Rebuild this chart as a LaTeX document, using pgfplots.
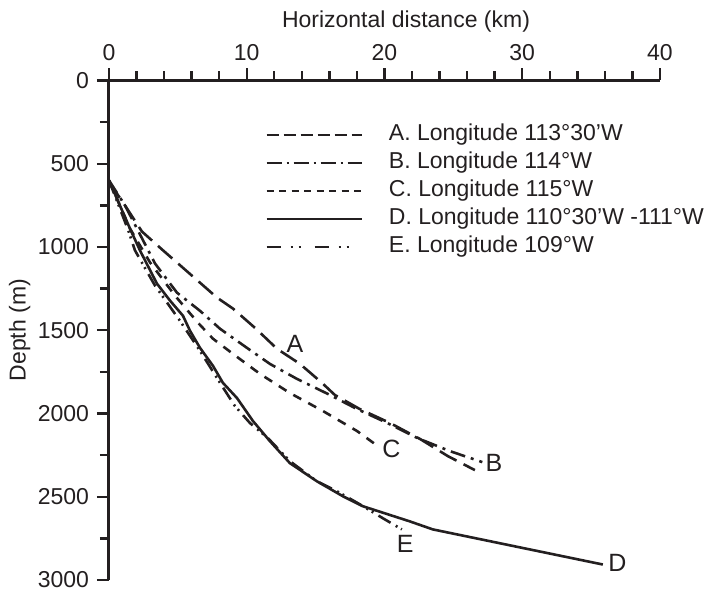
\documentclass[border=0pt]{standalone}
\usepackage{fontspec}
\setmainfont{Liberation Sans}
\usepackage{pgfplots}
\pgfplotsset{compat=1.18}
\definecolor{ink}{HTML}{231F20}

\begin{document}
\fontsize{11.5}{13.8}\selectfont
\begin{tikzpicture}
\begin{axis}[
  name=ax,
  scale only axis,
  width=275.5pt, height=249.75pt,
  xmin=0, xmax=40, ymin=0, ymax=3000,
  y dir=reverse,
  axis x line*=top, axis y line*=left,
  axis line style={-, line width=1.5pt, ink},
  xtick={0,10,...,40}, minor x tick num=4,
  ytick={0,500,...,3000}, minor y tick num=1,
  tick align=outside,
  major tick length=6pt, minor tick length=4.5pt,
  tick style={line width=1.2pt, ink},
  ticklabel style={text=ink},
  /pgf/number format/assume math mode=true,
  /pgf/number format/1000 sep={},
  xlabel={Horizontal distance (km)},
  xlabel style={at={(axis description cs:0.539,1.119)}, anchor=center, text=ink},
  ylabel={Depth (m)},
  ylabel style={at={(axis description cs:-0.162,0.5)}, anchor=center, text=ink},
  legend style={draw=none, fill=none, at={(axis description cs:0.283,0.914)},
    anchor=north west, inner sep=0pt, row sep=3pt,
    nodes={inner sep=0pt, text height=8.5pt, text depth=2.5pt, text=ink},
    /tikz/every odd column/.append style={column sep=13pt}},
  legend cell align=left,
  legend image code/.code={\draw[#1] (0pt,0pt) -- (47.5pt,0pt);},
  every axis plot/.append style={ink, line width=1.3pt},
]
% A. Longitude 113 30 W
\addplot[forget plot, dash pattern=on 9.5pt off 4pt] coordinates {
  (0,610) (1.0,730) (2.39,907) (3.85,1015) (6.6,1214) (7.84,1304) (9.0,1370)
  (10.67,1491) (12.19,1611) (13.86,1702) (15.46,1816) (16.4,1889) (18.2,1973)
  (20.4,2057) (22.6,2154) (24.6,2256) (26.56,2340)};
% B. Longitude 114 W
\addplot[forget plot, dash pattern=on 7.5pt off 3pt on 1.5pt off 3pt] coordinates {
  (0,600) (1.16,750) (3.34,1099) (4.93,1274) (6.6,1383) (8.06,1491) (10.0,1605)
  (11.68,1702) (13.64,1792) (15.9,1883) (18.0,1973) (20.2,2057) (22.4,2148)
  (24.75,2226) (27.1,2292)};
% C. Longitude 115 W
\addplot[forget plot, dash pattern=on 4.5pt off 4pt] coordinates {
  (0,600) (1.52,889) (2.98,1093) (4.79,1292) (6.46,1455) (7.55,1551) (9.0,1642)
  (10.96,1762) (13.13,1877) (15.53,1985) (18.0,2105) (19.52,2196)};
% D. Longitude 110 30 W - 111 W
\addplot[forget plot] coordinates {
  (0,600) (1.52,889) (2.25,1021) (3.48,1220) (4.43,1322) (5.37,1413) (5.88,1503)
  (6.60,1605) (7.55,1714) (8.27,1816) (9.29,1907) (10.45,2045) (11.68,2166)
  (13.13,2298) (15.09,2407) (16.98,2497) (18.43,2557) (21.84,2648) (23.5,2696)
  (35.85,2907)};
% E. Longitude 109 W
\addplot[forget plot, dash pattern=on 7pt off 3pt on 1pt off 2pt on 1pt off 3pt] coordinates {
  (0,600) (1.4,900) (1.89,1021) (3.34,1232) (5.15,1443) (6.6,1623) (8.06,1816)
  (9.14,1955) (10.23,2057) (11.54,2148) (13.13,2286) (15.09,2407) (16.55,2467)
  (18.2,2545) (19.9,2630) (21.26,2696)};

\addlegendimage{ink, line width=1.3pt, dash pattern=on 6pt off 2.5pt}
\addlegendimage{ink, line width=1.3pt, dash pattern=on 7.5pt off 2.5pt on 1pt off 2.5pt}
\addlegendimage{ink, line width=1.3pt, dash pattern=on 3.5pt off 2.75pt}
\addlegendimage{ink, line width=1.3pt}
\addlegendimage{ink, line width=1.3pt, dash pattern=on 7pt off 5pt on 1pt off 3pt on 1pt off 7pt}
\legend{A. Longitude 113°30’W, B. Longitude 114°W, C. Longitude 115°W,
  D. Longitude 110°30’W -111°W, E. Longitude 109°W}

\node[font=\fontsize{12.5}{15}\selectfont, text=ink] at (axis cs:13.5,1581) {A};
\node[font=\fontsize{12.5}{15}\selectfont, text=ink] at (axis cs:27.94,2298) {B};
\node[font=\fontsize{12.5}{15}\selectfont, text=ink] at (axis cs:20.5,2214) {C};
\node[font=\fontsize{12.5}{15}\selectfont, text=ink] at (axis cs:36.9,2900) {D};
\node[font=\fontsize{12.5}{15}\selectfont, text=ink] at (axis cs:21.5,2786) {E};
\end{axis}
\pgfresetboundingbox
\path[use as bounding box] ([xshift=-54.5pt,yshift=-5.5pt]ax.south west)
  rectangle ([xshift=23pt,yshift=40.25pt]ax.north east);
\end{tikzpicture}
\end{document}
